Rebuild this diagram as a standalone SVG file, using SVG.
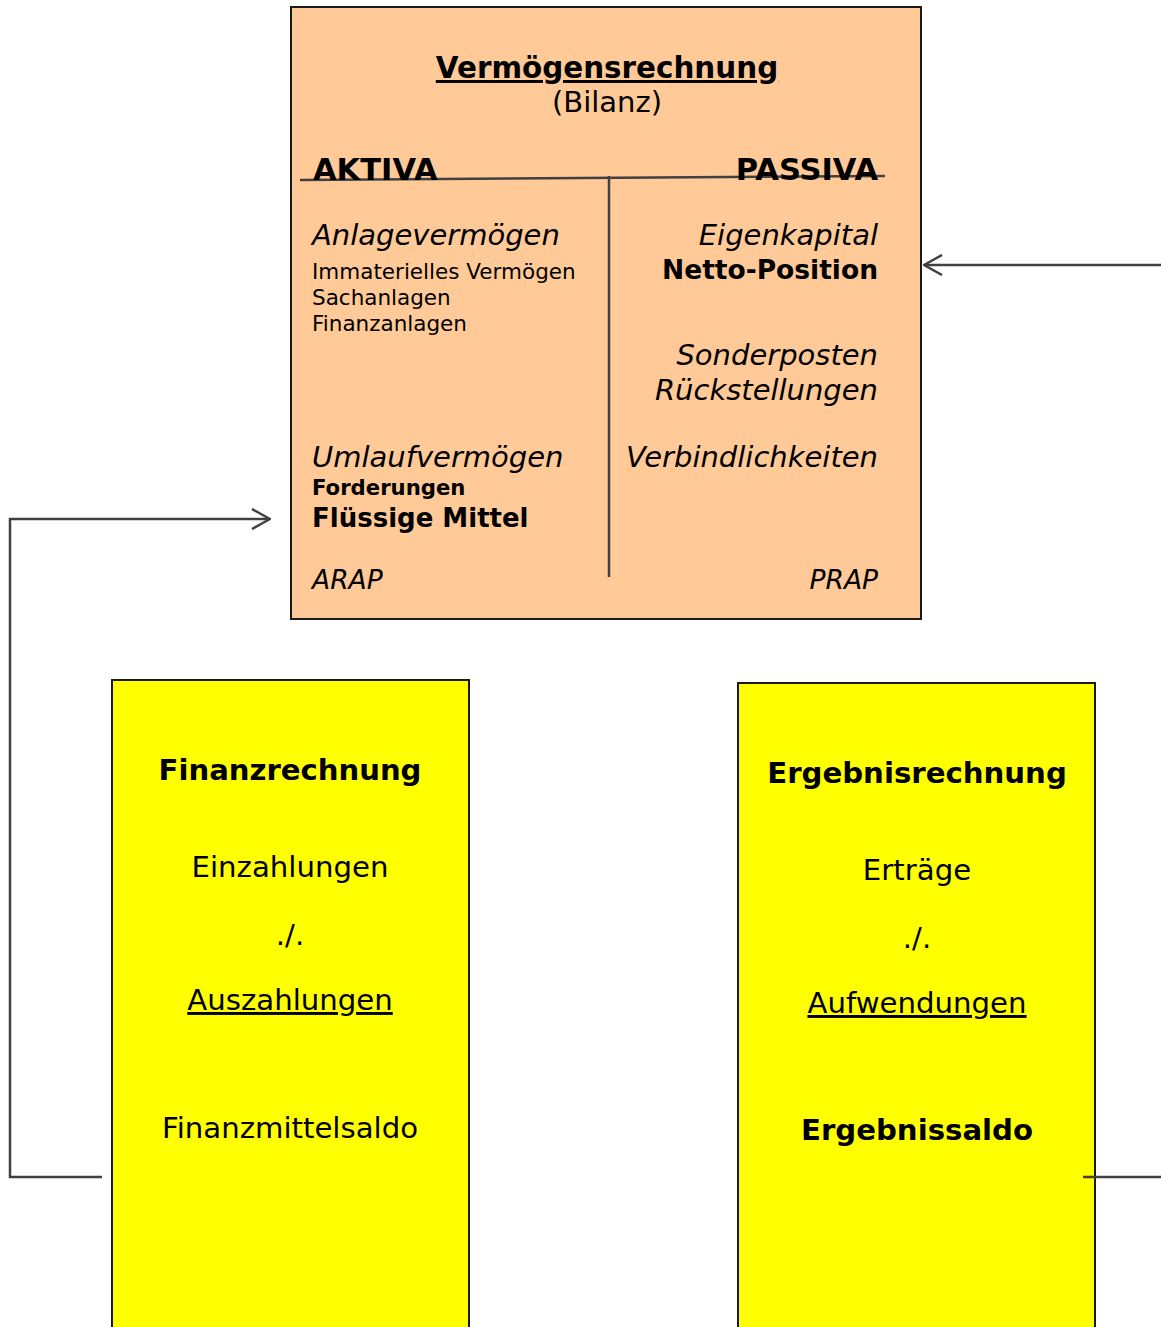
<svg xmlns="http://www.w3.org/2000/svg" width="1161" height="1327" viewBox="0 0 1161 1327">
<defs>
<marker id="open" viewBox="0 0 20 22" refX="19" refY="11" markerWidth="20" markerHeight="22" markerUnits="userSpaceOnUse" orient="auto">
<path d="M1,1 L19,11 L1,21" fill="none" stroke="#404040" stroke-width="2.5"/>
</marker>
<style>
text{font-family:"DejaVu Sans","Liberation Sans",sans-serif;fill:#000}
.b{font-weight:bold}
.i{font-style:italic}
.u{text-decoration:underline}
.m{text-anchor:middle}
.e{text-anchor:end}
.conn{fill:none;stroke:#404040;stroke-width:2.5}
</style>
</defs>
<g id="vermoegensrechnung">
<rect x="291" y="7" width="630" height="612" fill="#FFCA98" stroke="#1a1a1a" stroke-width="2"/>
<line x1="300" y1="180" x2="885" y2="176" stroke="#404040" stroke-width="2.5"/>
<line x1="609" y1="176" x2="609" y2="577" stroke="#404040" stroke-width="2.5"/>
<text x="607" y="78" font-size="29.4" class="b u m">Vermögensrechnung</text>
<text x="607" y="112" font-size="29" class="m">(Bilanz)</text>
<text x="313" y="180" font-size="30.5" class="b">AKTIVA</text>
<text x="878" y="180" font-size="30.5" class="b e">PASSIVA</text>
<text x="312" y="245" font-size="29" class="i">Anlagevermögen</text>
<text x="312" y="279" font-size="21.5">Immaterielles Vermögen</text>
<text x="312" y="305" font-size="21.5">Sachanlagen</text>
<text x="312" y="331" font-size="21.5">Finanzanlagen</text>
<text x="878" y="245" font-size="29" class="i e">Eigenkapital</text>
<text x="878" y="279" font-size="26.5" class="b e">Netto-Position</text>
<text x="878" y="365" font-size="29" class="i e">Sonderposten</text>
<text x="878" y="400" font-size="29" class="i e">Rückstellungen</text>
<text x="312" y="467" font-size="29" class="i">Umlaufvermögen</text>
<text x="878" y="467" font-size="29" class="i e">Verbindlichkeiten</text>
<text x="312" y="495" font-size="21.2" class="b">Forderungen</text>
<text x="312" y="527" font-size="26" class="b">Flüssige Mittel</text>
<text x="312" y="589" font-size="26.5" class="i">ARAP</text>
<text x="878" y="589" font-size="26.5" class="i e">PRAP</text>
</g>
<g id="finanzrechnung">
<rect x="112" y="680" width="357" height="660" fill="#FFFF00" stroke="#1a1a1a" stroke-width="2"/>
<text x="290" y="780" font-size="29.1" class="b m">Finanzrechnung</text>
<text x="290" y="877" font-size="29.2" class="m">Einzahlungen</text>
<text x="290" y="945" font-size="29.2" class="m">./.</text>
<text x="290" y="1010" font-size="29.2" class="m u">Auszahlungen</text>
<text x="290" y="1138" font-size="29.2" class="m">Finanzmittelsaldo</text>
</g>
<g id="ergebnisrechnung">
<rect x="738" y="683" width="357" height="660" fill="#FFFF00" stroke="#1a1a1a" stroke-width="2"/>
<text x="917" y="783" font-size="29.2" class="b m">Ergebnisrechnung</text>
<text x="917" y="880" font-size="29.2" class="m">Erträge</text>
<text x="917" y="948" font-size="29.2" class="m">./.</text>
<text x="917" y="1013" font-size="29.2" class="m u">Aufwendungen</text>
<text x="917" y="1140" font-size="29.2" class="b m">Ergebnissaldo</text>
</g>
<g id="connectors">
<path class="conn" d="M102,1177 L10,1177 L10,519 L270,519" marker-end="url(#open)"/>
<path class="conn" d="M1083,1177 L1161,1177"/>
<path class="conn" d="M1161,265 L924,265" marker-end="url(#open)"/>
</g>
</svg>
